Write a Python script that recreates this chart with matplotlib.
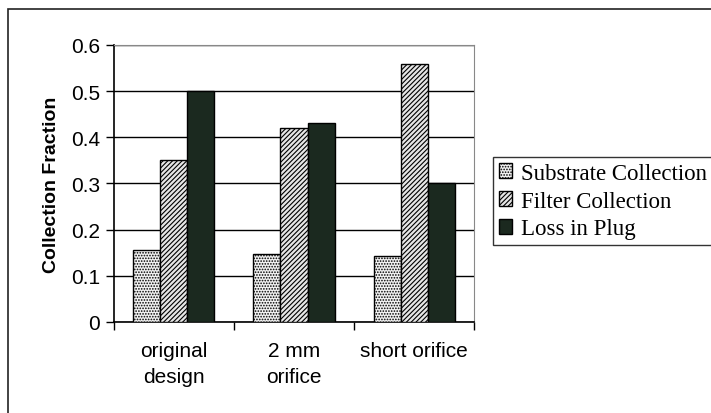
import matplotlib

matplotlib.use("Agg")
import matplotlib.pyplot as plt
from matplotlib.patches import Rectangle
import numpy as np

categories = ["original\ndesign", "2 mm\norifice", "short orifice"]
series_names = ["Substrate Collection", "Filter Collection", "Loss in Plug"]
substrate = [0.155, 0.148, 0.143]
filter_coll = [0.35, 0.42, 0.558]
loss_plug = [0.50, 0.432, 0.30]

plt.rcParams["hatch.linewidth"] = 0.8
plt.rcParams["font.family"] = ["Liberation Sans", "DejaVu Sans"]

fig = plt.figure(figsize=(7.11, 4.14), dpi=100)
ax = fig.add_axes([0.160, 0.220, 0.507, 0.669])

# outer chart frame (runs off the right/bottom edge)
fig.patches.append(Rectangle((0.011, -0.1), 1.2, 1.076, transform=fig.transFigure,
                             fill=False, edgecolor="#222222", linewidth=1.2))

x = np.arange(len(categories))
w = 0.225
styles = [
    dict(facecolor="#f2f2f2", hatch="......"),
    dict(facecolor="#e6e6e6", hatch="///////"),
    dict(facecolor="#1b291f", hatch=None),
]
handles = []
for k, (vals, st) in enumerate(zip([substrate, filter_coll, loss_plug], styles)):
    b = ax.bar(x + (k - 1) * w, vals, width=w, edgecolor="black", linewidth=1.0,
               zorder=3, label=series_names[k], **st)
    handles.append(b)

ax.set_xlim(-0.5, 2.5)
ax.set_ylim(0, 0.6)
ax.set_yticks(np.arange(0, 0.61, 0.1))
ax.set_yticklabels(["0", "0.1", "0.2", "0.3", "0.4", "0.5", "0.6"])
ax.yaxis.grid(True, color="black", linewidth=1.0, zorder=0)
ax.set_axisbelow(True)
ax.tick_params(axis="y", direction="out", length=6, width=1.0, labelsize=15, pad=4)

# category ticks sit on the boundaries, labels under the centers
ax.set_xticks([-0.5, 0.5, 1.5, 2.5])
ax.set_xticklabels([])
ax.set_xticks(x, minor=True)
ax.set_xticklabels(categories, minor=True, fontsize=15, linespacing=1.45)
ax.tick_params(axis="x", which="major", direction="out", length=6, width=1.0)
ax.tick_params(axis="x", which="minor", length=0, pad=14)

for side in ["top", "right"]:
    ax.spines[side].set_color("#888888")
for side in ["left", "bottom"]:
    ax.spines[side].set_linewidth(1.2)

ax.set_ylabel("Collection Fraction", fontsize=14, fontweight="bold", labelpad=8)

leg = fig.legend(handles, series_names, loc="upper left",
                 bbox_to_anchor=(493 / 711, 1 - 158 / 414),
                 prop={"family": "Liberation Serif", "size": 16.5},
                 frameon=True, fancybox=False, edgecolor="black",
                 handlelength=0.6, handleheight=0.6, handletextpad=0.35,
                 labelspacing=0.3, borderpad=0.25, borderaxespad=0)
leg.get_frame().set_linewidth(1.0)

fig.savefig("out.png", dpi=100)
